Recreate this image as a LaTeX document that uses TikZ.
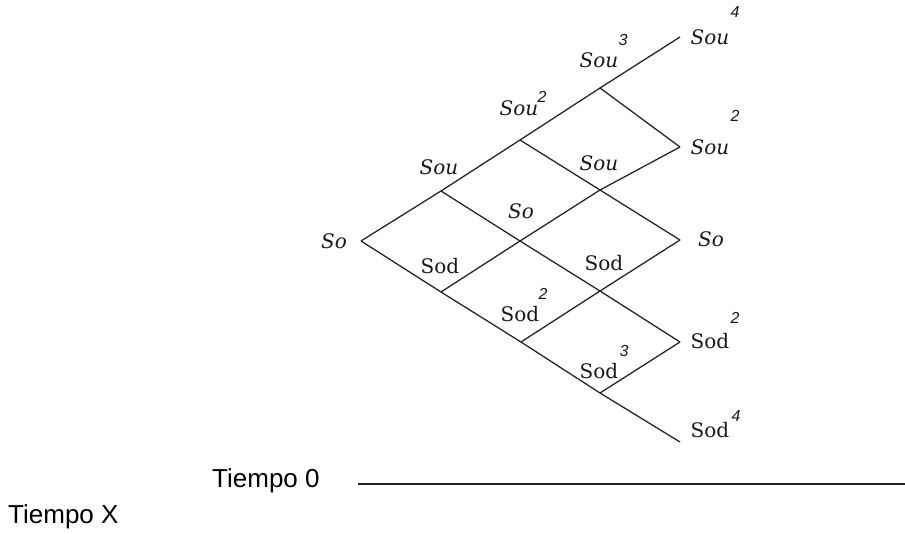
\documentclass[tikz,border=0pt]{standalone}
\usepackage{fontspec}
\setmainfont{DejaVu Serif}
\newfontfamily\sansfnt{Liberation Sans}
\begin{document}
\begin{tikzpicture}[x=1pt,y=-1pt,
  edge/.style={draw=black!85, line width=1.3pt},
  lab/.style={inner sep=0pt, text=black!90, font=\fontsize{20}{20}\selectfont},
  ilab/.style={inner sep=0pt, text=black!90, font=\fontsize{20}{20}\selectfont\itshape},
  supn/.style={inner sep=0pt, text=black!90, font=\sansfnt\itshape\fontsize{16}{16}\selectfont},
  timel/.style={inner sep=0pt, anchor=base west, font=\sansfnt\fontsize{26}{26}\selectfont}]
\useasboundingbox (0,0) rectangle (905,533);

% lattice points
\coordinate (A0) at (361,241);
\coordinate (U1) at (441,191);
\coordinate (U2) at (520,140);
\coordinate (U3) at (600,88);
\coordinate (U4) at (680,37);
\coordinate (RU2) at (680,147);
\coordinate (M) at (520,241);
\coordinate (N) at (600,190);
\coordinate (R0) at (680,240);
\coordinate (D1) at (441,292);
\coordinate (D2) at (521,342);
\coordinate (D3) at (600,393);
\coordinate (D4) at (680,442);
\coordinate (RD2) at (680,342);
\coordinate (P) at (600,291);

% connectors
\draw[edge] (A0) -- (U1) -- (U2) -- (U3) -- (U4);
\draw[edge] (A0) -- (D1) -- (D2) -- (D3) -- (D4);
\draw[edge] (U1) -- (M) -- (P) -- (RD2);
\draw[edge] (U2) -- (N) -- (R0);
\draw[edge] (U3) -- (RU2);
\draw[edge] (D1) -- (M) -- (N) -- (RU2);
\draw[edge] (D2) -- (P) -- (R0);
\draw[edge] (D3) -- (RD2);

% labels
\node[ilab] (l0) at (334,241) {So};
\node[ilab] (lu1) at (439,167) {Sou};
\node[ilab] (lu2) at (519,108) {Sou};
\node[supn] (su2) at (542,97) {2};
\node[ilab] (lu3) at (599,60) {Sou};
\node[supn] (su3) at (623,40) {3};
\node[ilab] (lu4) at (710,37) {Sou};
\node[supn] (su4) at (735,12) {4};
\node[ilab] (lru2) at (710,147) {Sou};
\node[supn] (sru2) at (735,116) {2};
\node[ilab] (lmu) at (599,163) {Sou};
\node[ilab] (lm) at (521,211) {So};
\node[ilab] (lr0) at (711,239) {So};

\node[lab] (ld1) at (440,266) {Sod};
\node[lab] (lpd) at (604,263) {Sod};
\node[lab] (ld2) at (520,314) {Sod};
\node[supn] (sd2) at (543,294) {2};
\node[lab] (lrd2) at (710,341) {Sod};
\node[supn] (srd2) at (735,318) {2};
\node[lab] (ld3) at (599,371) {Sod};
\node[supn] (sd3) at (624,351) {3};
\node[lab] (ld4) at (710,430) {Sod};
\node[supn] (sd4) at (736,416) {4};

% time axis
\node[timel] (t0) at (212,487) {Tiempo 0};
\node[timel] (tx) at (8,523) {Tiempo X};
\coordinate (TL) at (358,484);
\coordinate (TR) at (905,484);
\draw[edge, line width=1.4pt] (TL) -- (TR);
\end{tikzpicture}
\end{document}
